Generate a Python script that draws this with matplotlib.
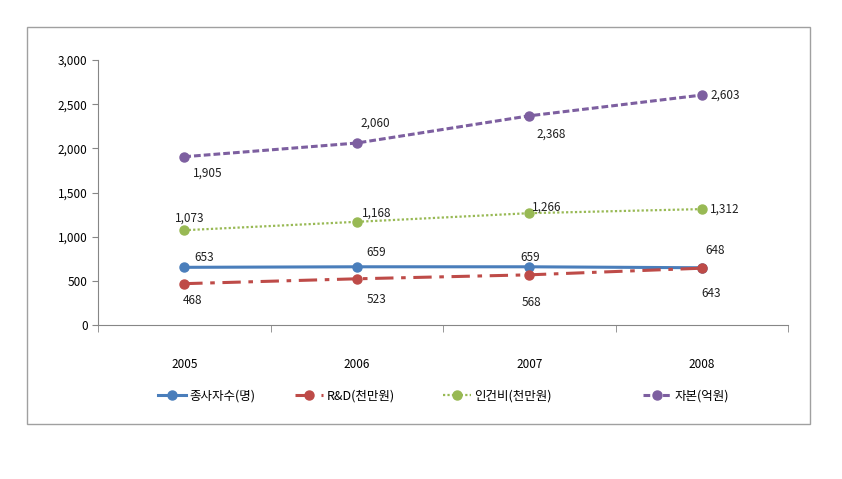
import matplotlib as mpl
mpl.use('Agg')
import matplotlib.pyplot as plt
from matplotlib.patches import Rectangle
from matplotlib.ticker import FuncFormatter

plt.rcParams['font.family'] = ['Noto Sans CJK KR', 'DejaVu Sans']

years = ['2005', '2006', '2007', '2008']
workers = [653, 659, 659, 648]
rnd = [468, 523, 568, 643]
labor = [1073, 1168, 1266, 1312]
capital = [1905, 2060, 2368, 2603]
series_names = ['종사자수(명)', 'R&D(천만원)', '인건비(천만원)', '자본(억원)']

# label offsets in pixels (dx, dy up) per series and point
offsets = {
    'workers': [(20, 10), (19, 14), (1, 9), (13, 17)],
    'rnd': [(8, -17), (20, -21), (2, -28), (9, -25)],
    'labor': [(5, 12), (20, 9), (17, 6), (23, 0)],
    'capital': [(23, -16), (19, 20), (22, -18), (23, 0)],
}

fig = plt.figure(figsize=(8.42, 4.79), dpi=100)
fig.patches.append(Rectangle((27 / 842, 1 - 424 / 479), 783 / 842, 397 / 479,
                             transform=fig.transFigure, fill=False,
                             edgecolor='#a0a0a0', linewidth=1.0))
ax = fig.add_axes([98 / 842, 154 / 479, 690 / 842, 265 / 479])

x = range(len(years))
styles = [
    ('workers', workers, '#4a7ebb', '-', 2.2),
    ('rnd', rnd, '#be4b48', (0, (6, 2.5, 1.5, 2.5)), 2.2),
    ('labor', labor, '#98b954', (0, (1, 1)), 1.6),
    ('capital', capital, '#7d5fa0', (0, (2.2, 1.0)), 2.2),
]
handles = []
for (key, vals, color, ls, lw), name in zip(styles, series_names):
    h, = ax.plot(x, vals, color=color, linestyle=ls, linewidth=lw,
                 marker='o', markersize=6.5, markeredgecolor=color,
                 label=name)
    handles.append(h)
    for i, v in enumerate(vals):
        dx, dy = offsets[key][i]
        ax.annotate(f'{v:,}', (i, v), xytext=(dx, dy), textcoords='offset pixels',
                    ha='center', va='center', fontsize=8.5, color='#202020')

ax.set_xlim(-0.5, 3.5)
ax.set_ylim(0, 3000)
ax.set_yticks(range(0, 3001, 500))
ax.yaxis.set_major_formatter(FuncFormatter(lambda v, p: f'{int(v):,}'))
ax.set_xticks(list(x))
ax.set_xticklabels(years)
ax.set_xticks([-0.5, 0.5, 1.5, 2.5, 3.5], minor=True)
ax.tick_params(axis='x', which='major', length=0, pad=24, labelsize=8.5)
ax.tick_params(axis='x', which='minor', length=5, color='#868686')
ax.tick_params(axis='y', length=4, color='#868686', labelsize=8.5)
for s in ['top', 'right']:
    ax.spines[s].set_visible(False)
for s in ['left', 'bottom']:
    ax.spines[s].set_color('#868686')

# legend entries placed individually, like the spreadsheet layout
legend_x = [158, 295, 443, 643]
for h, lx in zip(handles, legend_x):
    fig.legend(handles=[h], loc='center left',
               bbox_to_anchor=(lx / 842, 1 - 396 / 479),
               frameon=False, fontsize=9, handlelength=2.2,
               handletextpad=0.3, borderaxespad=0, borderpad=0)

fig.savefig('out.png', dpi=100)
